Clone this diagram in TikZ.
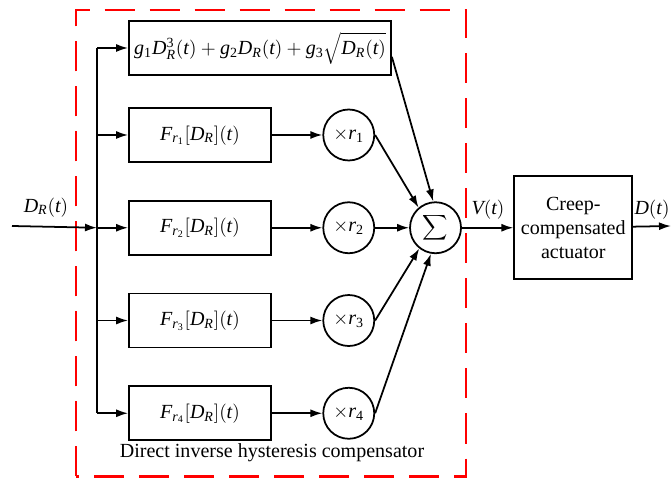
\documentclass[tikz,border=0pt]{standalone}
\usepackage{mathspec}
\setmainfont{Liberation Serif}
\setmathsfont(Digits,Latin){Liberation Serif}
\usetikzlibrary{arrows.meta,positioning,calc}

\begin{document}
\begin{tikzpicture}[x=1mm, y=1mm,
    font=\fontsize{11.4}{13.5}\selectfont,
    opbox/.style={draw, line width=1pt, minimum height=10.8mm, inner sep=1pt},
    hystbox/.style={opbox, minimum width=28.4mm},
    gainnode/.style={draw, circle, line width=1pt, minimum size=10.2mm, inner sep=0pt},
    sumnode/.style={gainnode, font=\fontsize{15}{15}\selectfont},
    plantbox/.style={opbox, align=center, minimum width=23.6mm, minimum height=20.6mm},
    sigarrow/.style={-{Latex[length=2.4mm,width=1.6mm]}, line width=1pt},
    compbox/.style={draw=red, line width=1.5pt, dash pattern=on 6mm off 3mm},
  ]
  \useasboundingbox (0,0) rectangle (134.2,95.6);

  % === Compensator frame ===
  \draw[compbox] (15.2,0.3) rectangle (93.2,93.6);
  \node (title) at (54.4,5) {Direct inverse hysteresis compensator};

  % === Branches ===
  \node[opbox, minimum width=52.4mm] (poly) at (52,86)
    {$g_1D_R^3\bigl(t\bigr)+g_2D_R\bigl(t\bigr)+g_3\sqrt{D_R\bigl(t\bigr)}$};
  \node[hystbox] (f1) at (40,68.6) {$F_{r_1}\bigl[D_R\bigr]\bigl(t\bigr)$};
  \node[hystbox, below=7.4mm of f1] (f2) {$F_{r_2}\bigl[D_R\bigr]\bigl(t\bigr)$};
  \node[hystbox, below=7.4mm of f2] (f3) {$F_{r_3}\bigl[D_R\bigr]\bigl(t\bigr)$};
  \node[hystbox, below=7.4mm of f3] (f4) {$F_{r_4}\bigl[D_R\bigr]\bigl(t\bigr)$};

  % Weights
  \node[gainnode, right=10.1mm of f1] (m1) {$\times r_1$};
  \node[gainnode, right=10.1mm of f2] (m2) {$\times r_2$};
  \node[gainnode, right=10.1mm of f3] (m3) {$\times r_3$};
  \node[gainnode, right=10.1mm of f4] (m4) {$\times r_4$};

  % Sum and actuator
  \node[sumnode, right=6.8mm of m2] (sum) {$\displaystyle\sum$};
  \node[plantbox, right=10.3mm of sum] (act) {Creep-\\compensated\\actuator};

  % === Input bus ===
  \coordinate (in) at (2.4,50.4);
  \coordinate (bustop) at (19.4,86);
  \coordinate (out) at (134.2,50.4);
  \draw[line width=1pt] (bustop) -- (f4.west -| bustop);
  \draw[sigarrow] (in) -- (f2.west -| bustop);
  \draw[sigarrow] (bustop) -- (poly);
  \draw[sigarrow] (f1.west -| bustop) -- (f1);
  \draw[sigarrow] (f2.west -| bustop) -- (f2);
  \draw[sigarrow] (f3.west -| bustop) -- (f3);
  \draw[sigarrow] (f4.west -| bustop) -- (f4);

  % Arrows
  \draw[sigarrow] (f1) -- (m1);
  \draw[sigarrow] (f2) -- (m2);
  \draw[sigarrow] (f3) -- (m3);
  \draw[sigarrow] (f4) -- (m4);
  \draw[sigarrow] ([yshift=3.8mm]poly.south east) -- (sum.95);
  \draw[sigarrow] (m1.east) -- (sum.130);
  \draw[sigarrow] (m2) -- (sum);
  \draw[sigarrow] (m3.east) -- (sum.-128);
  \draw[sigarrow] (m4.east) -- (sum.-100);
  \draw[sigarrow] (sum) -- (act);
  \draw[sigarrow] (act) -- (out);

  % Signal labels
  \node (din) at (9.2,54.2) {$D_R\bigl(t\bigr)$};
  \node (vt) at (97.6,53.8) {$V\bigl(t\bigr)$};
  \node (dt) at (130.4,53.8) {$D\bigl(t\bigr)$};

\end{tikzpicture}
\end{document}
